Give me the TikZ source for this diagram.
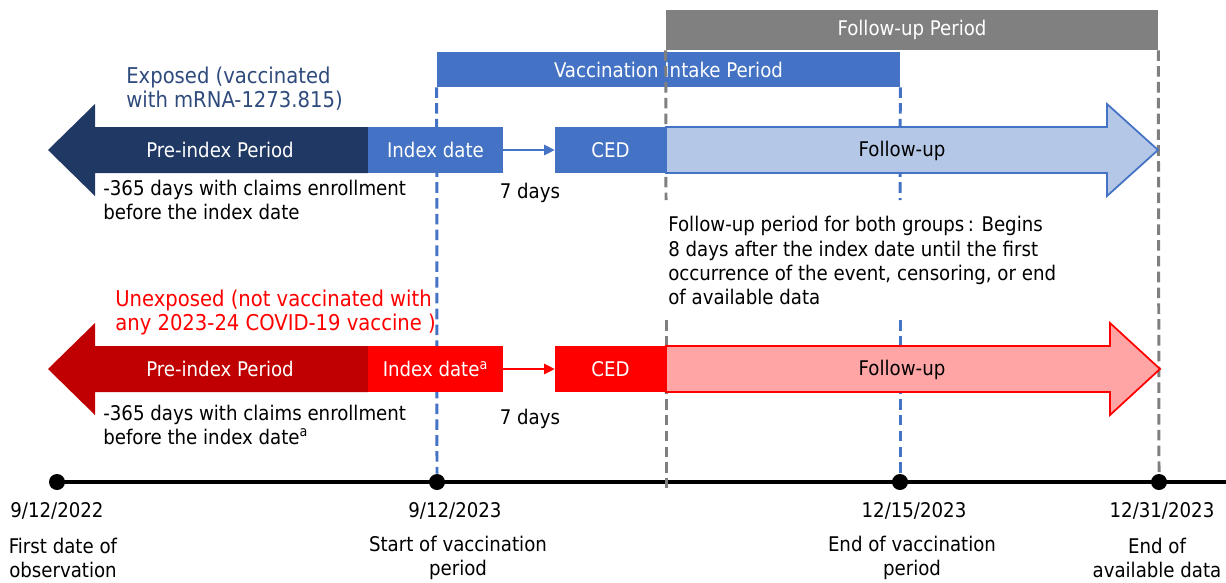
\documentclass[tikz,border=0pt]{standalone}
\usepackage{fontspec}
\setmainfont{DejaVu Sans Condensed}
\usetikzlibrary{arrows.meta}
\definecolor{navy}{RGB}{32,56,100}
\definecolor{navytext}{RGB}{47,75,124}
\definecolor{midblue}{RGB}{68,114,196}
\definecolor{paleblue}{RGB}{180,199,231}
\definecolor{bargray}{RGB}{128,128,128}
\definecolor{dashgray}{RGB}{127,127,127}
\definecolor{darkred}{RGB}{192,0,0}
\definecolor{brightred}{RGB}{255,0,0}
\definecolor{palered}{RGB}{255,165,165}
\begin{document}
\begin{tikzpicture}
            [x=0.02cm, y=-0.02cm, font=\fontsize{11.5}{13.7}\selectfont,
            box/.style={minimum height=0.92cm, inner sep=0pt, text=white},
            vline/.style={line width=1.7pt, dash pattern=on 6pt off 3pt},
            link/.style={-{Triangle[length=6pt,width=6pt]}, line width=0.6pt},
            dot/.style={circle, fill=black, minimum size=0.32cm, inner sep=0pt},
            textlabel/.style={align=left, anchor=west, inner sep=0pt},
            grouplabel/.style={textlabel, font=\fontsize{12.4}{13.7}\selectfont},
            datelabel/.style={align=center, inner sep=0pt}]

            \useasboundingbox (0,0) rectangle (1226,582);

            % periods on top
            \node[box, fill=bargray, minimum width=9.84cm, minimum height=0.8cm] (fup) at (912,30) {Follow-up Period};
            \node[box, fill=midblue, minimum width=9.26cm, minimum height=0.7cm] (intake) at (668.5,69.5) {Vaccination Intake Period};

            % timeline
            \coordinate (axend) at (1226,482);
            \node[dot] (d1) at (57,482) {};
            \node[dot] (d2) at (437,482) {};
            \node[dot] (d3) at (900,482) {};
            \node[dot] (d4) at (1159,482) {};
            \draw[line width=2.8pt] (d1.center) -- (axend);

            % reference lines
            \coordinate (g1) at (666,200);
            \coordinate (g2) at (666,320);
            \coordinate (g3) at (666,488);
            \coordinate (b1) at (900,200);
            \coordinate (b2) at (900,320);
            \draw[vline, dashgray] (fup.south west) -- (g1);
            \draw[vline, dashgray] (g2) -- (g3);
            \draw[vline, dashgray] (fup.south east) -- (d4.north);
            \draw[vline, midblue] (intake.south west) -- (d2.north);
            \draw[vline, midblue] (intake.south east) -- (b1);
            \draw[vline, midblue] (b2) -- (d3.north);

            % exposed
            \node[grouplabel, text=navytext] (exp) at (126,89) {Exposed (vaccinated\\with mRNA-1273.815)};
            \fill[navy] (368,127) -- (95,127) -- (95,104) -- (48,150) -- (95,196) -- (95,173) -- (368,173) -- cycle;
            \node[text=white] (pre1) at (220,150) {Pre-index Period};
            \node[box, fill=midblue, minimum width=2.7cm] (idx1) at (435.5,150) {Index date};
            \node[box, fill=midblue, minimum width=2.22cm] (ced1) at (610.5,150) {CED};
            \draw[link, midblue] (idx1) -- (ced1);
            \filldraw[fill=paleblue, draw=midblue, line width=1pt] (666,127) -- (1107,127) -- (1107,104) -- (1158,150) -- (1107,196) -- (1107,173) -- (666,173) -- cycle;
            \node (fu1) at (902,151) {Follow-up};
            \node[textlabel] (pre1note) at (103,200) {-365 days with claims enrollment\\before the index date};
            \node (wait1) at (530,193) {7 days};

            \node[textlabel] (funote) at (668,260.5) {Follow-up period for both groups\,: Begins\\8 days after the index date until the first\\occurrence of the event, censoring, or end\\of available data};

            % unexposed
            \node[grouplabel, text=brightred] (unexp) at (115,312.5) {Unexposed (not vaccinated with\\any 2023-24 COVID-19 vaccine )};
            \fill[darkred] (368,346) -- (95,346) -- (95,323) -- (48,369) -- (95,415) -- (95,392) -- (368,392) -- cycle;
            \node[text=white] (pre2) at (220,369) {Pre-index Period};
            \node[box, fill=brightred, minimum width=2.7cm] (idx2) at (435.5,369) {Index date\textsuperscript{a}};
            \node[box, fill=brightred, minimum width=2.22cm] (ced2) at (610.5,369) {CED};
            \draw[link, brightred] (idx2) -- (ced2);
            \filldraw[fill=palered, draw=brightred, line width=1pt] (666,346) -- (1110,346) -- (1110,323) -- (1160,369) -- (1110,415) -- (1110,392) -- (666,392) -- cycle;
            \node (fu2) at (902,370) {Follow-up};
            \node[textlabel] (pre2note) at (103,425) {-365 days with claims enrollment\\before the index date\textsuperscript{a}};
            \node (wait2) at (530,419) {7 days};

            % dates
            \node[datelabel] (t1) at (57,511) {9/12/2022};
            \node[datelabel] (t2) at (455,511) {9/12/2023};
            \node[datelabel] (t3) at (914,511) {12/15/2023};
            \node[datelabel] (t4) at (1162,511) {12/31/2023};
            \node[datelabel] (c1) at (63,558) {First date of\\observation};
            \node[datelabel] (c2) at (458,558) {Start of vaccination\\period};
            \node[datelabel] (c3) at (912,558) {End of vaccination\\period};
            \node[datelabel] (c4) at (1157,558) {End of\\available data};

        \end{tikzpicture}
\end{document}
